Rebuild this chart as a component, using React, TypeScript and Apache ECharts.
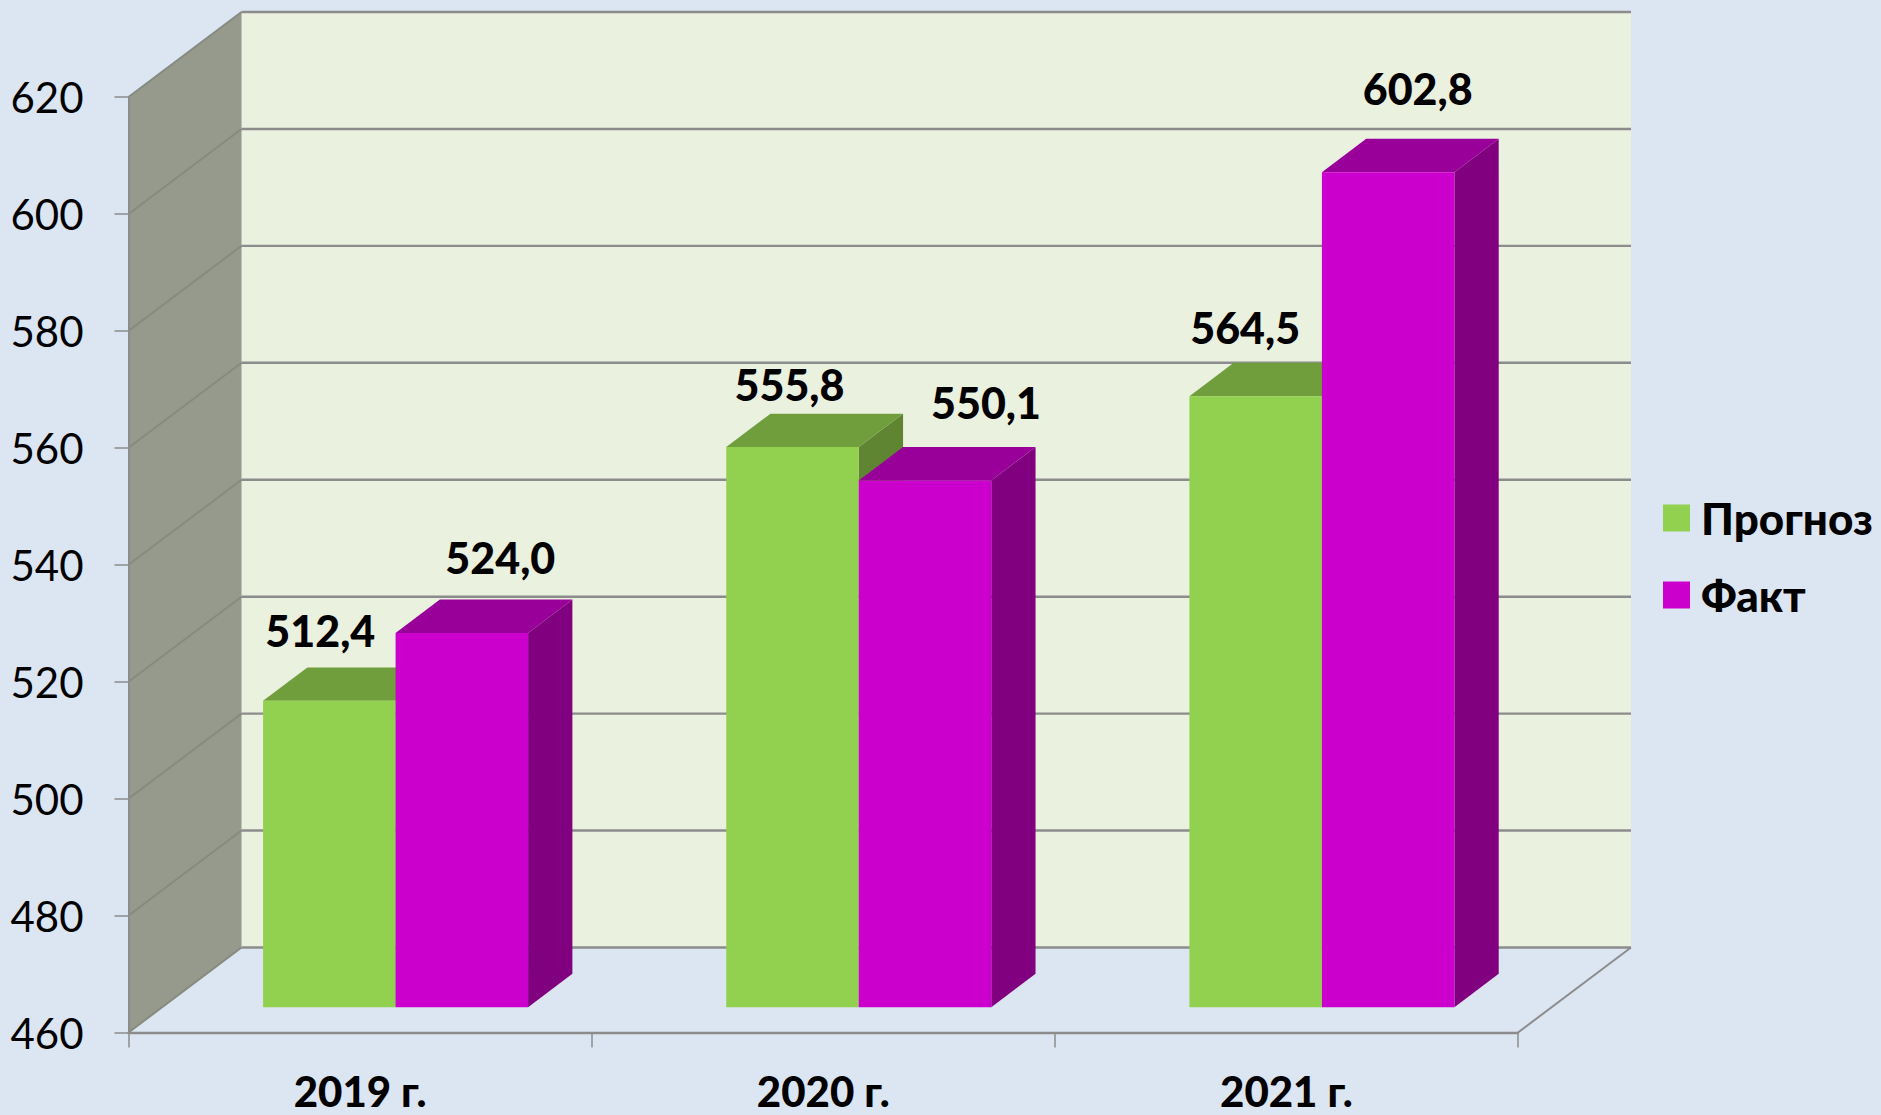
import React, { useEffect, useRef } from "react";
import * as echarts from "echarts";

const categories = ["2019 г.", "2020 г.", "2021 г."];
const forecastName = "Прогноз";
const actualName = "Факт";
const forecastValues = [512.4, 555.8, 564.5];
const actualValues = [524.0, 550.1, 602.8];
const yTicks = [460, 480, 500, 520, 540, 560, 580, 600, 620];

// label placement relative to the top-centre of each bar's front face
const forecastLabelOffsets = [[-9, -70], [-3, -63], [-10.5, -69]];
const actualLabelOffsets = [[38.5, -76], [61, -78], [29.5, -84]];

const FONT = "Lato, Carlito, 'Open Sans', sans-serif";
const WALL_DX = 113;
const WALL_DY = 85;
const FRONT_DX = 35.5;
const FRONT_DY = 25.3;
const BAR_DX = 44.3;
const BAR_DY = 33.4;
const BAR_W = 132.5;
const LINE = "#8c8c8c";

const formatValue = (v: number) => v.toFixed(1).replace(".", ",");

function wallItem(params: any, api: any) {
  const value = api.value(0);
  const [, y] = api.coord([0, value]);
  const cs = params.coordSys;
  const x0 = cs.x;
  const x1 = cs.x + cs.width;
  const yTop = cs.y;
  const yBottom = cs.y + cs.height;
  const children: any[] = [];
  if (params.dataIndex === 0) {
    children.push({
      type: "rect",
      shape: { x: x0 + WALL_DX, y: yTop - WALL_DY, width: cs.width, height: cs.height },
      style: { fill: "#eaf1df" },
    });
    children.push({
      type: "polygon",
      shape: {
        points: [
          [x0, yTop],
          [x0 + WALL_DX, yTop - WALL_DY],
          [x0 + WALL_DX, yBottom - WALL_DY],
          [x0, yBottom],
        ],
      },
      style: { fill: "#969a8d" },
    });
    children.push({
      type: "line",
      shape: { x1: x1, y1: yBottom, x2: x1 + WALL_DX, y2: yBottom - WALL_DY },
      style: { stroke: LINE, lineWidth: 2 },
    });
  }
  children.push({
    type: "polyline",
    shape: { points: [[x0, y], [x0 + WALL_DX, y - WALL_DY]] },
    style: { stroke: "#868a7f", lineWidth: 2, fill: "none" },
  });
  children.push({
    type: "line",
    shape: { x1: x0 + WALL_DX, y1: y - WALL_DY, x2: x1 + WALL_DX, y2: y - WALL_DY },
    style: { stroke: LINE, lineWidth: 2.4 },
  });
  return { type: "group", children };
}

function barRenderer(side: -1 | 1, colors: { front: string; top: string; side: string }, offsets: number[][]) {
  return (params: any, api: any) => {
    const cat = api.value(0);
    const val = api.value(1);
    const [cx, yv] = api.coord([cat, val]);
    const [, y0v] = api.coord([cat, yTicks[0]]);
    const groupCenter = cx + FRONT_DX;
    const xl = side < 0 ? groupCenter - BAR_W : groupCenter;
    const xr = xl + BAR_W;
    const yt = yv - FRONT_DY;
    const yb = y0v - FRONT_DY;
    const off = offsets[params.dataIndex];
    return {
      type: "group",
      children: [
        {
          type: "polygon",
          shape: { points: [[xr, yt], [xr + BAR_DX, yt - BAR_DY], [xr + BAR_DX, yb - BAR_DY], [xr, yb]] },
          style: { fill: colors.side },
        },
        {
          type: "polygon",
          shape: { points: [[xl, yt], [xl + BAR_DX, yt - BAR_DY], [xr + BAR_DX, yt - BAR_DY], [xr, yt]] },
          style: { fill: colors.top },
        },
        {
          type: "rect",
          shape: { x: xl, y: yt, width: BAR_W, height: yb - yt },
          style: { fill: colors.front },
        },
        {
          type: "text",
          x: (xl + xr) / 2 + off[0],
          y: yt + off[1],
          style: {
            text: formatValue(val),
            fill: "#000000",
            font: `900 43px ${FONT}`,
            align: "center",
            verticalAlign: "middle",
          },
        },
      ],
    };
  };
}

export default function App() {
  const ref = useRef<HTMLDivElement>(null);

  useEffect(() => {
    document.body.style.margin = "0";
    const chart = echarts.init(ref.current!, undefined, { renderer: "svg" });
    chart.setOption({
      animation: false,
      backgroundColor: "#dce6f2",
      grid: { left: 128.5, top: 97, width: 1389.5, height: 935.5 },
      legend: {
        data: [forecastName, actualName],
        orient: "vertical",
        left: 1663,
        top: 496,
        padding: 0,
        itemWidth: 27,
        itemHeight: 27,
        itemGap: 33,
        icon: "rect",
        selectedMode: false,
        textStyle: { fontFamily: FONT, fontSize: 44, fontWeight: 900, color: "#000", lineHeight: 27, padding: [0, 0, 0, 6] },
      },
      xAxis: {
        type: "category",
        data: categories,
        z: 5,
        axisLine: { lineStyle: { color: LINE, width: 2.4 } },
        axisTick: { show: true, length: 15, lineStyle: { color: LINE, width: 1.5 } },
        axisLabel: { fontFamily: FONT, fontSize: 42, fontWeight: 900, color: "#000", margin: 40, lineHeight: 36 },
      },
      yAxis: {
        type: "value",
        min: 460,
        max: 620,
        interval: 20,
        z: 5,
        splitLine: { show: false },
        axisLine: { show: true, lineStyle: { color: LINE, width: 2 } },
        axisTick: { show: true, length: 14, lineStyle: { color: LINE, width: 1.5 } },
        axisLabel: { fontFamily: FONT, fontSize: 42, color: "#000", margin: 45 },
      },
      series: [
        {
          type: "custom",
          name: "walls",
          coordinateSystem: "cartesian2d",
          data: yTicks.map((v) => [v]),
          encode: { y: 0 },
          renderItem: wallItem,
          silent: true,
          z: 1,
        },
        {
          type: "custom",
          name: forecastName,
          coordinateSystem: "cartesian2d",
          itemStyle: { color: "#92d050" },
          data: forecastValues.map((v, i) => [i, v]),
          encode: { x: 0, y: 1 },
          renderItem: barRenderer(-1, { front: "#92d050", top: "#719e3d", side: "#5f8533" }, forecastLabelOffsets),
          silent: true,
          z: 2,
        },
        {
          type: "custom",
          name: actualName,
          coordinateSystem: "cartesian2d",
          itemStyle: { color: "#cc00cc" },
          data: actualValues.map((v, i) => [i, v]),
          encode: { x: 0, y: 1 },
          renderItem: barRenderer(1, { front: "#cc00cc", top: "#990099", side: "#800080" }, actualLabelOffsets),
          silent: true,
          z: 3,
        },
      ],
    });
    return () => chart.dispose();
  }, []);

  return <div ref={ref} style={{ width: 1881, height: 1115 }} />;
}
